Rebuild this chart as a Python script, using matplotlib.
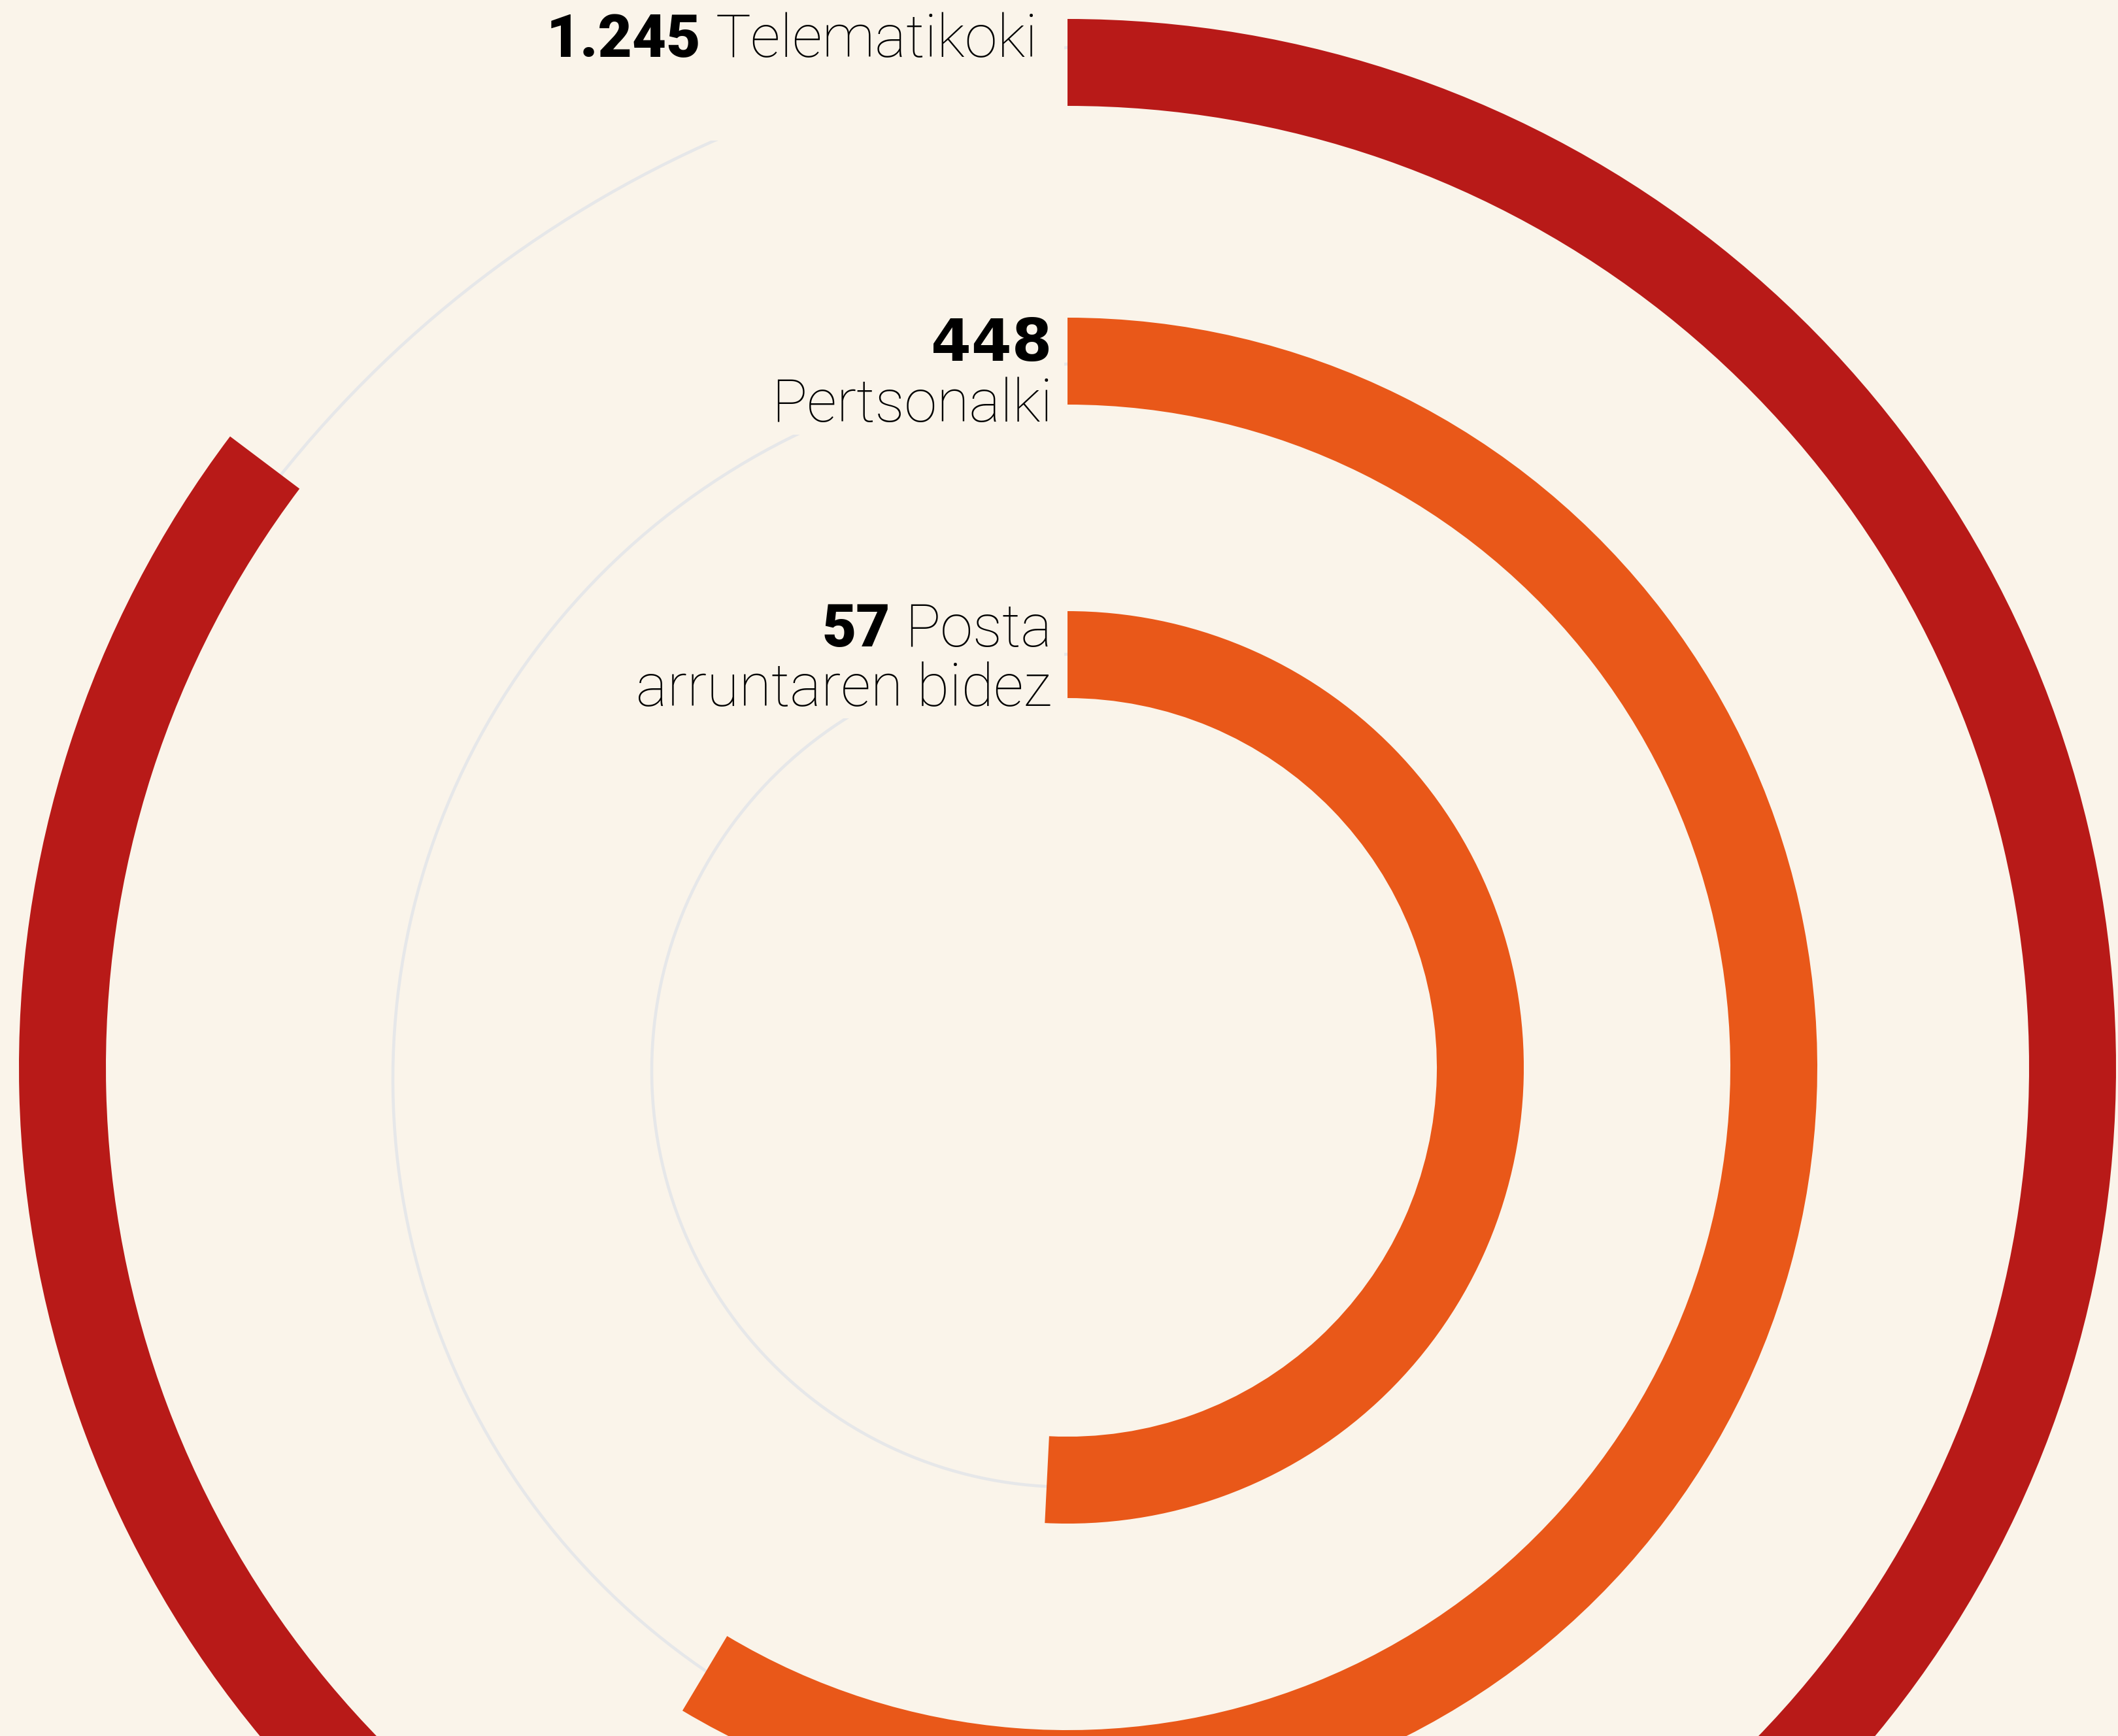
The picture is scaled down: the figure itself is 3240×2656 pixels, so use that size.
import matplotlib
matplotlib.use("Agg")
import matplotlib.pyplot as plt
from matplotlib.patches import Wedge, Arc, Rectangle

# data
methods = ["Telematikoki", "Pertsonalki", "Posta"]
methods_2nd_line = ["", "", "arruntaren bidez"]
counts = [1245, 448, 57]
count_labels = ["1.245", "448", "57"]
arc_deg = [307.0, 210.9, 182.85]  # clockwise sweep from 12 o'clock
colors = ["#B81A18", "#E95819", "#E95819"]

BG = "#FAF4EA"
TRACK = "#E6E7E9"

W, H = 3241, 2656
cx, cy = 1633, 1633
ring_outer = [1604, 1147, 698]
ring_w = 133

# grey background tracks (centre, radius, start angle hidden under the bar)
track_geom = [((1807, 1827), 1763, 300), ((1697, 1651), 1096, 205), ((1634, 1638), 637, 175)]
# boxes behind the labels (x0, y0, x1, y1) in pixels
label_boxes = [(840, -10, 1628, 215), (1160, 470, 1628, 665), (960, 900, 1628, 1099)]
# label text: right edge, first baseline, second baseline, number on own line?
label_pos = [(1587, 87.5, None, False), (1610, 551.7, 644.7, True), (1609, 989, 1080, False)]

FS = 65
LIGHT = dict(family="Roboto", weight="light", fontsize=FS, color="#000000")
BOLD = dict(family="Roboto", weight="black", fontsize=FS, color="#000000")
# the "448" in the original is set in a wider heavy face
BOLD_WIDE = dict(family="DejaVu Sans", weight="bold", fontsize=FS - 1, color="#000000")

fig = plt.figure(figsize=(W / 100, H / 100), dpi=100)
fig.patch.set_facecolor(BG)
ax = fig.add_axes([0, 0, 1, 1])
ax.set_facecolor(BG)
ax.set_xlim(0, W)
ax.set_ylim(H, 0)
ax.axis("off")

for (tc, R, start) in track_geom:
    ax.add_patch(Arc(tc, 2 * R, 2 * R, theta1=start - 90, theta2=270,
                     color=TRACK, lw=3.3, zorder=1))

for (x0, y0, x1, y1) in label_boxes:
    ax.add_patch(Rectangle((x0, y0), x1 - x0, y1 - y0, facecolor=BG,
                           edgecolor="none", zorder=2))

for r, sweep, c in zip(ring_outer, arc_deg, colors):
    ax.add_patch(Wedge((cx, cy), r, -90, sweep - 90, width=ring_w,
                       facecolor=c, edgecolor="none", zorder=3))

renderer = fig.canvas.get_renderer()
gap = 22
for name, name2, num, (xr, b1, b2, own_line) in zip(methods, methods_2nd_line,
                                                    count_labels, label_pos):
    if own_line:
        ax.text(xr, b1, num, ha="right", va="baseline", zorder=4, **BOLD_WIDE)
        ax.text(xr, b2, name, ha="right", va="baseline", zorder=4, **LIGHT)
    else:
        t = ax.text(xr, b1, name, ha="right", va="baseline", zorder=4, **LIGHT)
        x_left = t.get_window_extent(renderer).x0
        ax.text(x_left - gap, b1, num, ha="right", va="baseline", zorder=4, **BOLD)
        if name2:
            ax.text(xr, b2, name2, ha="right", va="baseline", zorder=4, **LIGHT)

fig.savefig("out.png", dpi=100, facecolor=BG)
